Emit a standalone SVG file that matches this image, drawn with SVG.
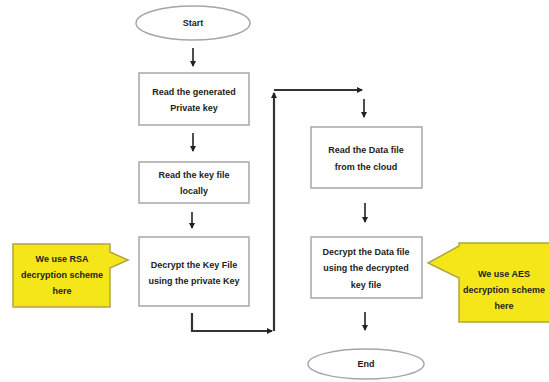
<svg xmlns="http://www.w3.org/2000/svg" width="549" height="382" viewBox="0 0 549 382">
<defs>
<marker id="ah" markerWidth="6" markerHeight="6" refX="5" refY="3" orient="auto" markerUnits="userSpaceOnUse">
<path d="M0,0 L6,3 L0,6 Z" fill="#222"/>
</marker>
<style>
.box{fill:#fff;stroke:#a6a6a6;stroke-width:1.5}
.term{fill:#fff;stroke:#a6a6a6;stroke-width:1.5}
.call{fill:#f5e61a;stroke:#b0a640;stroke-width:1.5}
.t{font-family:"Liberation Sans",Arial,sans-serif;font-size:9px;font-weight:bold;fill:#222;text-anchor:middle}
.ar{stroke:#222;stroke-width:1.6;fill:none;marker-end:url(#ah)}
.ln{stroke:#333;stroke-width:2.2;fill:none;marker-end:url(#ah)}
</style>
</defs>
<rect width="549" height="382" fill="#fff"/>
<g id="start"><ellipse class="term" cx="193" cy="23" rx="57" ry="17"/><text class="t" x="193" y="26">Start</text></g>
<g id="n1"><rect class="box" x="139" y="73" width="110" height="52"/><text class="t" x="194" y="95">Read the generated</text><text class="t" x="194" y="111">Private key</text></g>
<g id="n2"><rect class="box" x="139" y="162" width="110" height="41"/><text class="t" x="194" y="178">Read the key file</text><text class="t" x="194" y="194">locally</text></g>
<g id="n3"><rect class="box" x="139" y="237" width="110" height="69"/><text class="t" x="194" y="268">Decrypt the Key File</text><text class="t" x="194" y="284">using the private Key</text></g>
<g id="rsa"><path class="call" d="M13,244 H110 V252 L128,260 L110,268 V307 H13 Z"/><text class="t" x="62" y="262">We use RSA</text><text class="t" x="62" y="278">decryption scheme</text><text class="t" x="62" y="294">here</text></g>
<g id="n4"><rect class="box" x="311" y="127" width="111" height="61"/><text class="t" x="366" y="153">Read the Data file</text><text class="t" x="366" y="170">from the cloud</text></g>
<g id="n5"><rect class="box" x="311" y="237" width="111" height="61"/><text class="t" x="366" y="255">Decrypt the Data file</text><text class="t" x="366" y="271">using the decrypted</text><text class="t" x="366" y="288">key file</text></g>
<g id="aes"><path class="call" d="M459,243 H552 V322 H459 V278 L428,263 L459,246 Z"/><text class="t" x="504" y="277">We use AES</text><text class="t" x="504" y="293">decryption scheme</text><text class="t" x="504" y="309">here</text></g>
<g id="end"><ellipse class="term" cx="366" cy="364" rx="58" ry="15"/><text class="t" x="366" y="367">End</text></g>
<g id="connectors">
<path class="ar" d="M193,48 V66"/>
<path class="ar" d="M193,133 V151"/>
<path class="ar" d="M192,212 V228"/>
<path class="ln" d="M192,313 V331 H272"/>
<path class="ln" d="M274,331 V93"/>
<path class="ln" d="M274,90 H362"/>
<path class="ar" d="M364,99 V117"/>
<path class="ar" d="M365,203 V222"/>
<path class="ar" d="M365,312 V330"/>
</g>
</svg>
